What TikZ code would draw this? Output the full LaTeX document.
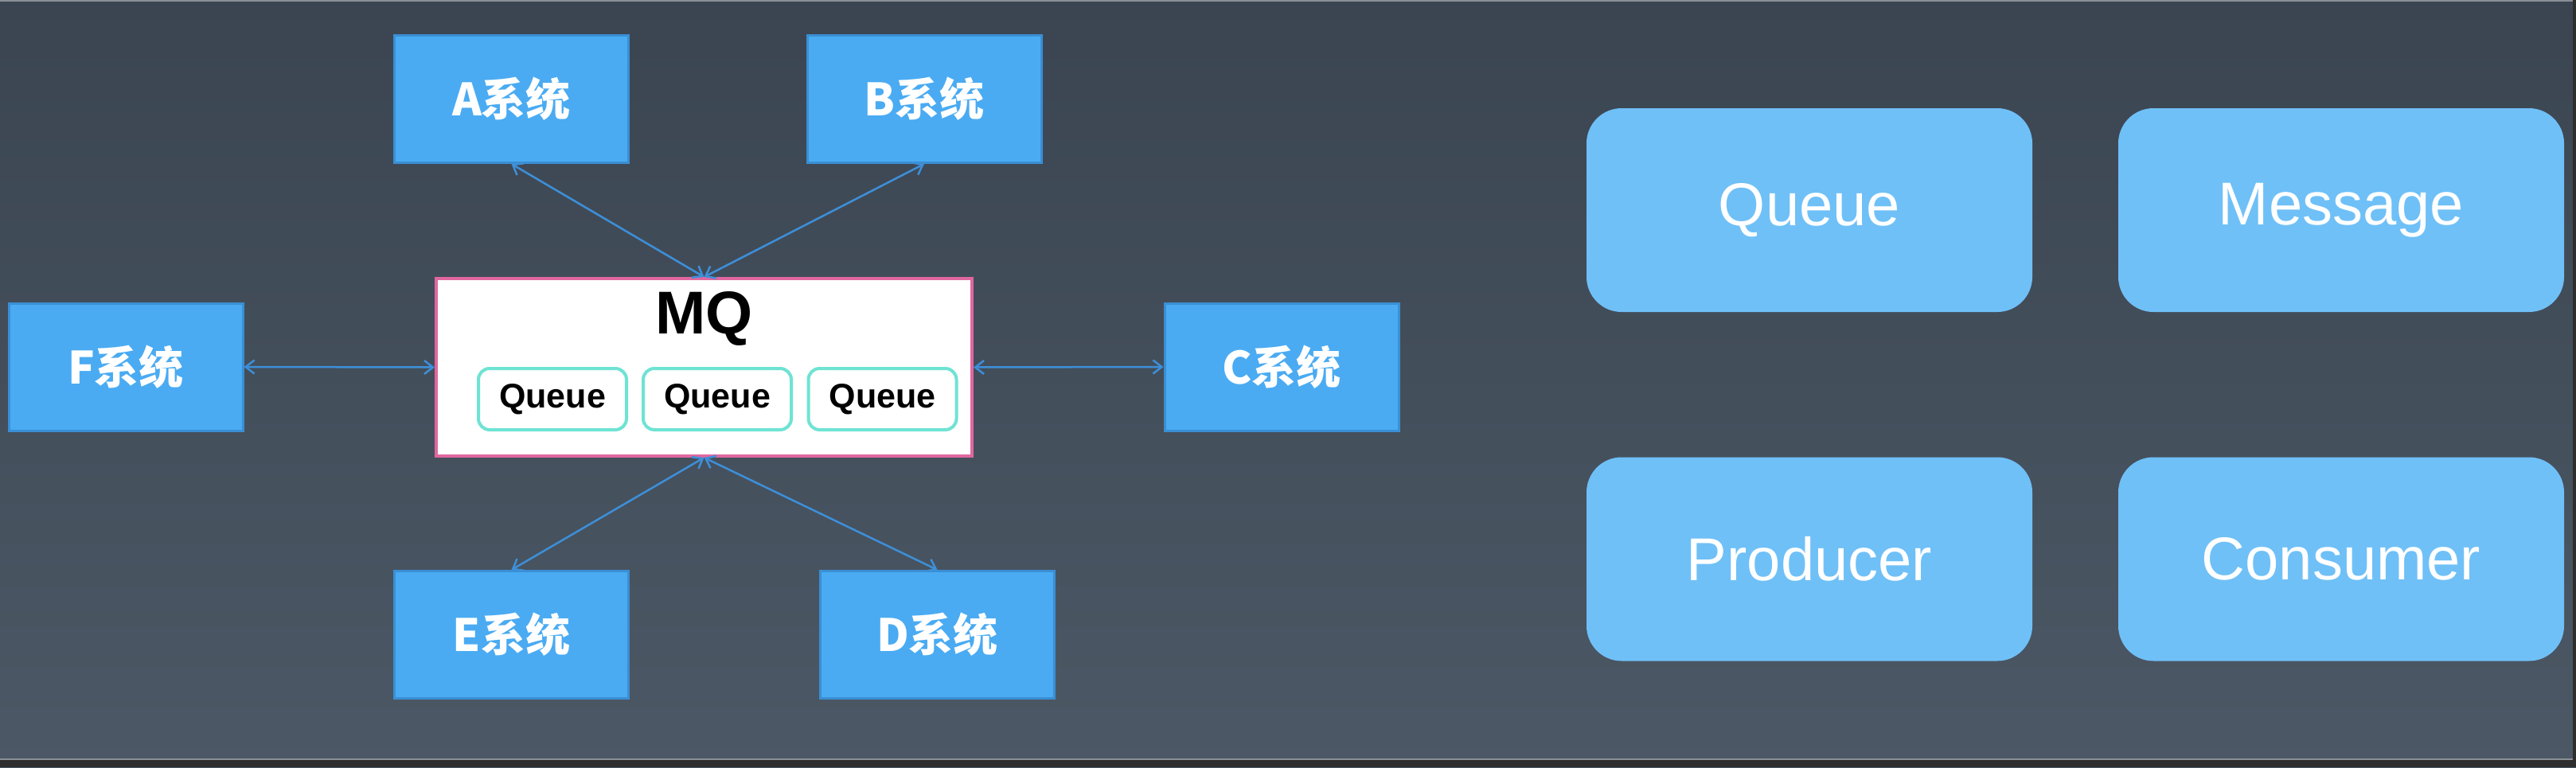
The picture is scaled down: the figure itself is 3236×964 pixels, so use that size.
\documentclass[tikz,border=0pt]{standalone}
\usepackage{fontspec}
\setmainfont{Liberation Sans}
\newfontfamily\cjk{Noto Sans CJK SC}
\usetikzlibrary{arrows.meta}
\definecolor{bgtop}{HTML}{3B4552}
\definecolor{bgbot}{HTML}{4C5865}
\definecolor{edgedark}{HTML}{2E2E2E}
\definecolor{edgegray}{HTML}{8A8F96}
\definecolor{sysfill}{HTML}{4AABF2}
\definecolor{sysborder}{HTML}{3A8FD4}
\definecolor{conceptfill}{HTML}{6FC0F7}
\definecolor{mqpink}{HTML}{E0679F}
\definecolor{qteal}{HTML}{6FE3D3}
\definecolor{connblue}{HTML}{3D8FD8}
\begin{document}
\begin{tikzpicture}[x=1pt,y=-1pt,
  sysbox/.style={draw=sysborder, line width=3pt, fill=sysfill, minimum width=294pt, minimum height=160pt, inner sep=0pt, text=white, font=\cjk\bfseries\fontsize{56}{62}\selectfont},
  mqbox/.style={draw=mqpink, line width=4pt, fill=white, minimum width=673pt, minimum height=223pt, inner sep=0pt},
  mqtitle/.style={inner sep=0pt, text=black, font=\bfseries\fontsize{76}{80}\selectfont},
  qbox/.style={draw=qteal, line width=4pt, fill=white, rounded corners=14pt, minimum width=186pt, minimum height=77pt, inner sep=0pt, text=black, font=\bfseries\fontsize{43}{48}\selectfont},
  concept/.style={fill=conceptfill, rounded corners=44pt, minimum width=560pt, minimum height=256pt, inner sep=0pt, text=white, font=\fontsize{76}{80}\selectfont},
  conn/.style={draw=connblue, line width=2.5pt, {Straight Barb[length=11pt,width=17pt]}-{Straight Barb[length=11pt,width=17pt]}}
]
\useasboundingbox (0,0) rectangle (3236,964);
\shade[top color=bgtop, bottom color=bgbot] (0,0) rectangle (3236,964);
\fill[edgegray] (0,0) rectangle (3232,1.5);
\fill[edgegray] (0,952.5) rectangle (3232,955);
\fill[edgedark] (0,955) rectangle (3236,964);
\fill[edgedark] (3232,0) rectangle (3236,964);

% systems
\node[sysbox] (A) at (642.5,124.5) {A系统};
\node[sysbox] (B) at (1161,124.5) {B系统};
\node[sysbox] (F) at (158,461) {F系统};
\node[sysbox] (C) at (1610,461) {C系统};
\node[sysbox] (E) at (642.5,797.5) {E系统};
\node[sysbox] (D) at (1177.5,797.5) {D系统};

% MQ
\node[mqbox] (mq) at (884.5,461.5) {};
\node[mqtitle] (mqt) at (884.5,400) {MQ};
\node[qbox] (q1) at (694,501.5) {Queue};
\node[qbox] (q2) at (901,501.5) {Queue};
\node[qbox] (q3) at (1108.5,501.5) {Queue};

% connectors
\draw[conn] (A.south) -- (mq.north);
\draw[conn] (B.south) -- (mq.north);
\draw[conn] (F.east) -- (mq.west);
\draw[conn] (C.west) -- (mq.east);
\draw[conn] (E.north) -- (mq.south);
\draw[conn] (D.north) -- (mq.south);

% concepts
\node[concept] (cq) at (2273,264) {Queue};
\node[concept] (cm) at (2941,264) {Message};
\node[concept] (cp) at (2273,702.5) {Producer};
\node[concept] (cc) at (2941,702.5) {Consumer};
\end{tikzpicture}
\end{document}
